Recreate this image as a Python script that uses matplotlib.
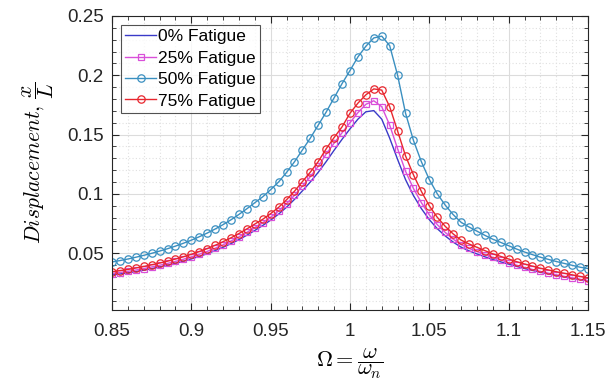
import matplotlib
matplotlib.use("Agg")
import matplotlib.pyplot as plt
from matplotlib.ticker import MultipleLocator

plt.rcParams['mathtext.fontset'] = 'cm'
plt.rcParams['font.family'] = ['Liberation Sans', 'DejaVu Sans']

# Frequency ratio Omega (0.85 .. 1.15, step 0.005)
omega = [0.85 + 0.005 * i for i in range(61)]

fatigue_0 = [
    0.0315, 0.0324, 0.0333, 0.0344, 0.0356, 0.0369, 0.0383, 0.0398, 0.0414, 0.0432,
    0.0451, 0.0472, 0.0495, 0.0521, 0.0549, 0.0580, 0.0614, 0.0651, 0.0691, 0.0733,
    0.0778, 0.0829, 0.0887, 0.0953, 0.1025, 0.1100, 0.1182, 0.1272, 0.1368, 0.1460,
    0.1548, 0.1630, 0.1692, 0.1702, 0.1630, 0.1470, 0.1290, 0.1120, 0.0985, 0.0875,
    0.0782, 0.0706, 0.0645, 0.0593, 0.0550, 0.0519, 0.0493, 0.0469, 0.0446, 0.0426,
    0.0407, 0.0388, 0.0370, 0.0354, 0.0338, 0.0325, 0.0312, 0.0299, 0.0287, 0.0276,
    0.0265]

fatigue_25 = [
    0.0327, 0.0336, 0.0346, 0.0357, 0.0369, 0.0383, 0.0397, 0.0413, 0.0430, 0.0448,
    0.0468, 0.0490, 0.0514, 0.0541, 0.0570, 0.0602, 0.0637, 0.0675, 0.0715, 0.0756,
    0.0803, 0.0855, 0.0917, 0.0987, 0.1065, 0.1145, 0.1232, 0.1335, 0.1428, 0.1515,
    0.1600, 0.1685, 0.1755, 0.1785, 0.1735, 0.1580, 0.1380, 0.1190, 0.1045, 0.0925,
    0.0822, 0.0740, 0.0675, 0.0618, 0.0572, 0.0540, 0.0513, 0.0488, 0.0464, 0.0443,
    0.0418, 0.0398, 0.0379, 0.0362, 0.0345, 0.0331, 0.0317, 0.0304, 0.0291, 0.0279,
    0.0267]

fatigue_50 = [
    0.0425, 0.0437, 0.0450, 0.0465, 0.0481, 0.0498, 0.0517, 0.0537, 0.0559, 0.0583,
    0.0609, 0.0638, 0.0669, 0.0703, 0.0740, 0.0781, 0.0826, 0.0874, 0.0925, 0.0975,
    0.1035, 0.1100, 0.1180, 0.1270, 0.1370, 0.1470, 0.1580, 0.1690, 0.1810, 0.1930,
    0.2040, 0.2155, 0.2245, 0.2315, 0.2330, 0.2250, 0.2000, 0.1680, 0.1450, 0.1270,
    0.1120, 0.1000, 0.0905, 0.0825, 0.0760, 0.0720, 0.0685, 0.0650, 0.0617, 0.0590,
    0.0562, 0.0534, 0.0509, 0.0487, 0.0465, 0.0447, 0.0429, 0.0413, 0.0397, 0.0381,
    0.0370]

fatigue_75 = [
    0.0342, 0.0352, 0.0362, 0.0374, 0.0387, 0.0401, 0.0416, 0.0432, 0.0450, 0.0469,
    0.0490, 0.0513, 0.0538, 0.0566, 0.0596, 0.0629, 0.0665, 0.0704, 0.0745, 0.0785,
    0.0833, 0.0886, 0.0950, 0.1022, 0.1103, 0.1183, 0.1272, 0.1380, 0.1475, 0.1565,
    0.1680, 0.1765, 0.1835, 0.1885, 0.1875, 0.1735, 0.1530, 0.1320, 0.1160, 0.1020,
    0.0898, 0.0802, 0.0726, 0.0662, 0.0610, 0.0577, 0.0549, 0.0521, 0.0494, 0.0472,
    0.0450, 0.0428, 0.0408, 0.0390, 0.0372, 0.0358, 0.0343, 0.0330, 0.0317, 0.0303,
    0.0290]

labels = ["0% Fatigue", "25% Fatigue", "50% Fatigue", "75% Fatigue"]
x_ticks = [0.85, 0.9, 0.95, 1.0, 1.05, 1.1, 1.15]
x_tick_labels = ["0.85", "0.9", "0.95", "1", "1.05", "1.1", "1.15"]
y_ticks = [0.05, 0.1, 0.15, 0.2, 0.25]
y_tick_labels = ["0.05", "0.1", "0.15", "0.2", "0.25"]

fig = plt.figure(figsize=(6.08, 3.90), dpi=100)
ax = fig.add_axes([112/608, 1 - 310/390, 476/608, 294/390])

ax.plot(omega, fatigue_0, color='#3a3ac8', lw=1.0, label=labels[0])
ax.plot(omega, fatigue_25, color='#d94fd9', lw=1.0, marker='s', ms=4.0,
        mfc='none', mew=0.9, label=labels[1])
ax.plot(omega, fatigue_50, color='#3a8fc0', lw=1.0, marker='o', ms=5.3,
        mfc='none', mew=0.9, label=labels[2])
ax.plot(omega, fatigue_75, color='#e8262e', lw=1.0, marker='o', ms=5.3,
        mfc='none', mew=0.9, label=labels[3])

ax.set_xlim(0.85, 1.15)
ax.set_ylim(0.002, 0.25)
ax.set_xticks(x_ticks)
ax.set_xticklabels(x_tick_labels)
ax.set_yticks(y_ticks)
ax.set_yticklabels(y_tick_labels)
ax.xaxis.set_minor_locator(MultipleLocator(0.01))
ax.yaxis.set_minor_locator(MultipleLocator(0.01))

ax.grid(which='major', color='#dcdcdc', lw=0.8, ls='-')
ax.grid(which='minor', color='#e0e0e0', lw=0.8, ls=(0, (1, 2)))
ax.set_axisbelow(True)

ax.tick_params(which='both', direction='in', top=True, right=True,
               colors='#262626', labelcolor='#262626')
ax.tick_params(which='major', length=5, labelsize=13.5)
ax.tick_params(axis='x', which='major', pad=9)
ax.tick_params(axis='y', which='major', pad=6)
ax.tick_params(which='minor', length=3)
for s in ax.spines.values():
    s.set_color('#262626')
    s.set_linewidth(0.8)

ax.set_xlabel(r'$\Omega = \dfrac{\omega}{\omega_n}$', fontsize=16, labelpad=5)
ax.set_ylabel(r'$Displacement,\, \dfrac{x}{L}$', fontsize=15.5, labelpad=8)

leg = ax.legend(loc='upper left', bbox_to_anchor=(0.019, 0.97), fontsize=12.5,
                frameon=True, fancybox=False, handlelength=1.75,
                handletextpad=0.15, borderpad=0.25, labelspacing=0.36,
                borderaxespad=0.0)
leg.get_frame().set_edgecolor('#262626')
leg.get_frame().set_linewidth(0.8)

fig.savefig('out.png', dpi=100)
